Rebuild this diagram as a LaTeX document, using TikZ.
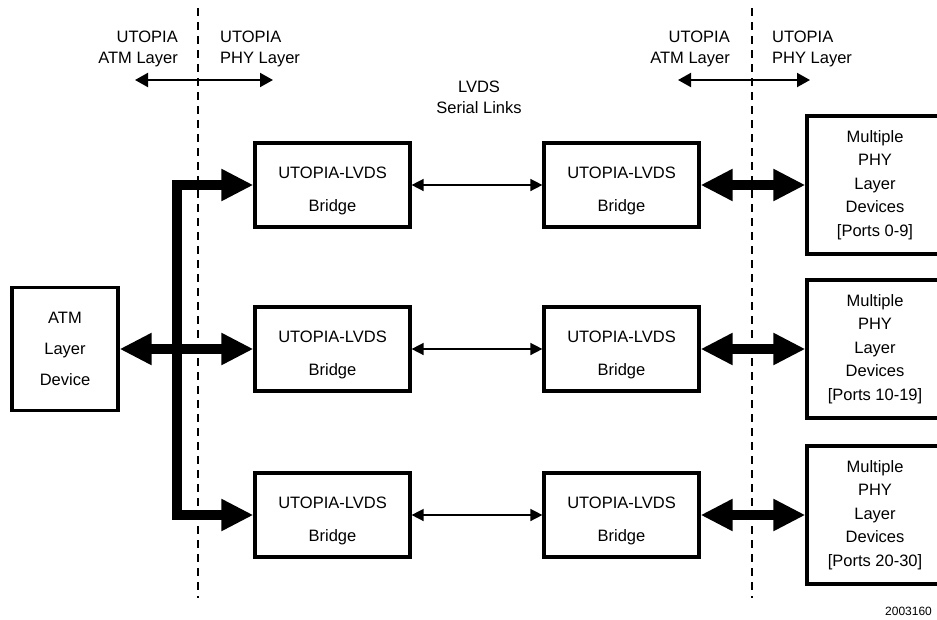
\documentclass[tikz,border=0pt]{standalone}
\usepackage{fontspec}
\setmainfont{Liberation Sans}
\usetikzlibrary{arrows.meta}
\begin{document}
\begin{tikzpicture}[x=1pt,y=-1pt,
  box/.style={draw, line width=3.2pt, inner sep=0pt, align=center},
  bridgebox/.style={box, minimum width=155pt, minimum height=84pt},
  physbox/.style={box, minimum width=136pt, minimum height=138pt,
    font=\fontsize{16.5}{23.5}\selectfont},
  toplbl/.style={inner sep=0pt, font=\fontsize{16.5}{21}\selectfont},
  bigarr/.style={line width=10pt, line join=miter,
    {Triangle[length=32pt,width=30pt]}-{Triangle[length=32pt,width=30pt]}},
  thinarr/.style={line width=1.5pt,
    {Triangle[length=12pt,width=12pt]}-{Triangle[length=12pt,width=12pt]}},
  toparr/.style={line width=2pt,
    {Triangle[length=13pt,width=14pt]}-{Triangle[length=13pt,width=14pt]}},
  dashline/.style={line width=1.3pt, dash pattern=on 8pt off 6pt}
]
\useasboundingbox (0,0) rectangle (937,619);
\clip (0,0) rectangle (937,619);

% dashed boundaries
\coordinate (dl1) at (198,8);  \coordinate (dl2) at (198,598);
\coordinate (dr1) at (752,8);  \coordinate (dr2) at (752,598);
\draw[dashline] (dl1) -- (dl2);
\draw[dashline] (dr1) -- (dr2);

% top labels
\node[toplbl, anchor=north east, align=right] (tla) at (178,31) {UTOPIA\\ATM Layer};
\node[toplbl, anchor=north west, align=left] (tlp) at (220,31) {UTOPIA\\PHY Layer};
\node[toplbl, anchor=north east, align=right] (tra) at (730,31) {UTOPIA\\ATM Layer};
\node[toplbl, anchor=north west, align=left] (trp) at (772,31) {UTOPIA\\PHY Layer};
\node[toplbl, anchor=north, align=center] (lvds) at (479,81) {LVDS\\Serial Links};

\coordinate (al1) at (135,80); \coordinate (al2) at (273,80);
\coordinate (ar1) at (678,80); \coordinate (ar2) at (810,80);
\draw[toparr] (al1) -- (al2);
\draw[toparr] (ar1) -- (ar2);

% ATM device
\node[box, minimum width=106pt, minimum height=123pt,
  font=\fontsize{16.5}{31}\selectfont] (atm) at (65,349) {ATM\\Layer\\Device};

% bridges
\foreach \n/\y in {1/185,2/349,3/515}{
  \node[bridgebox, label={[font=\fontsize{16.5}{33}\selectfont, align=center, inner sep=0pt, yshift=-6pt]center:UTOPIA-LVDS\\Bridge}] (b\n) at (332.5,\y) {};
  \node[bridgebox, label={[font=\fontsize{16.5}{33}\selectfont, align=center, inner sep=0pt, yshift=-6pt]center:UTOPIA-LVDS\\Bridge}] (c\n) at (621.5,\y) {};
}

% PHY devices
\node[physbox] (p1) at (875,185) {Multiple\\PHY\\Layer\\Devices\\{[Ports 0-9]}};
\node[physbox] (p2) at (875,349) {Multiple\\PHY\\Layer\\Devices\\{[Ports 10-19]}};
\node[physbox] (p3) at (875,515) {Multiple\\PHY\\Layer\\Devices\\{[Ports 20-30]}};

% bus from ATM device
\coordinate (bus) at (177,349);
\draw[bigarr] (b1.west) -| (bus) |- (b3.west);
\draw[bigarr] (atm.east) -- (b2.west);

% LVDS links and PHY links
\foreach \n in {1,2,3}{
  \draw[thinarr] (b\n.east) -- (c\n.west);
  \draw[bigarr] (c\n.east) -- (p\n.west);
}

\node[inner sep=0pt, anchor=west, font=\fontsize{12}{13}\selectfont] (fig) at (885,611) {2003160};
\end{tikzpicture}
\end{document}
